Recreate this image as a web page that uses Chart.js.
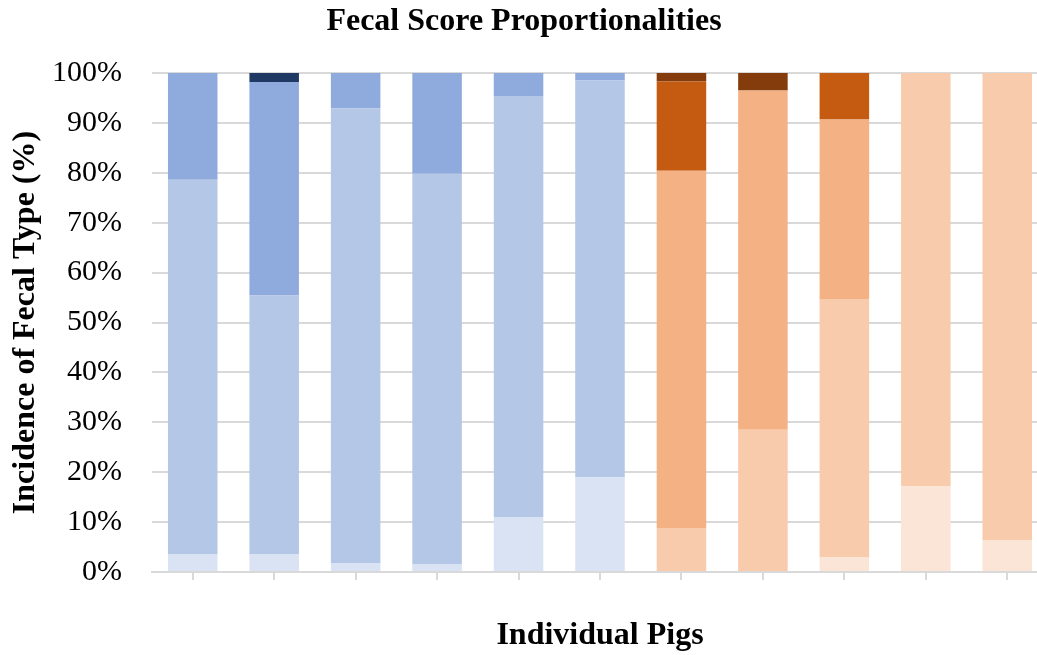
<!DOCTYPE html>
<html>
<head>
<meta charset="utf-8">
<script src="https://cdn.jsdelivr.net/npm/chart.js@4/dist/chart.umd.min.js"></script>
<style>
  html, body { margin: 0; padding: 0; background: #fff; overflow: hidden; }
  #wrap { width: 1048px; height: 655px; }
</style>
</head>
<body>
<div id="wrap"><canvas id="c" width="1048" height="655"></canvas></div>
<script>
// Pigs on the x axis (labels are not printed)
const pigs = ['1', '2', '3', '4', '5', '6', '7', '8', '9', '10', '11'];

// Share (%) of observations per fecal score, one array per score (1 = firmest)
const score1 = [3.6, 3.6, 1.8, 1.5, 11.0, 19.0, 0, 0, 3.0, 17.2, 6.3];
const score2 = [75.0, 51.8, 91.1, 78.3, 84.4, 79.5, 8.8, 28.5, 51.7, 82.8, 93.7];
const score3 = [21.4, 42.8, 7.1, 20.2, 4.6, 1.5, 71.6, 68.0, 36.0, 0, 0];
const score4 = [0, 0, 0, 0, 0, 0, 17.9, 0, 9.3, 0, 0];
const score5 = [0, 1.8, 0, 0, 0, 0, 1.7, 3.5, 0, 0, 0];

// Group of each pig: first six in blue shades, last five in orange shades
const group = ['b', 'b', 'b', 'b', 'b', 'b', 'o', 'o', 'o', 'o', 'o'];
const blueShades = ['#dae3f3', '#b4c7e7', '#8faadc', '#2f5597', '#203864'];
const orangeShades = ['#fbe5d6', '#f8cbad', '#f4b183', '#c55a11', '#843c0c'];

const yTicks = [0, 10, 20, 30, 40, 50, 60, 70, 80, 90, 100];

const series = [score1, score2, score3, score4, score5];
const datasets = series.map((values, level) => ({
  label: 'Score ' + (level + 1),
  data: values,
  backgroundColor: group.map(g => (g === 'b' ? blueShades : orangeShades)[level]),
  borderWidth: 0,
  barPercentage: 0.608,
  categoryPercentage: 1.0
}));

const serif = "'Liberation Serif', 'Times New Roman', serif";

new Chart(document.getElementById('c'), {
  type: 'bar',
  data: { labels: pigs, datasets },
  options: {
    responsive: false,
    animation: false,
    layout: { padding: { left: 0, right: 0, top: 0, bottom: 0 } },
    plugins: {
      legend: { display: false },
      tooltip: { enabled: false },
      title: {
        display: true,
        text: 'Fecal Score Proportionalities',
        color: '#000',
        font: { family: serif, size: 32, weight: 'bold' },
        padding: { top: 3, bottom: 31.6 }
      }
    },
    scales: {
      x: {
        stacked: true,
        offset: true,
        border: { display: true, color: '#d9d9d9', width: 2 },
        grid: {
          offset: false,
          drawOnChartArea: false,
          drawTicks: true,
          tickLength: 8,
          color: '#d9d9d9',
          lineWidth: 2
        },
        ticks: { display: false },
        title: {
          display: true,
          text: 'Individual Pigs',
          color: '#000',
          font: { family: serif, size: 32, weight: 'bold' },
          padding: { top: 30, bottom: 0 }
        },
        afterFit: s => { s.height = 83; }
      },
      y: {
        stacked: true,
        min: 0,
        max: 100,
        afterBuildTicks: s => { s.ticks = yTicks.map(v => ({ value: v })); },
        border: { display: false },
        grid: { color: '#d9d9d9', lineWidth: 2, drawTicks: false },
        ticks: {
          color: '#000',
          font: { family: serif, size: 30 },
          padding: 30,
          callback: v => v + '%'
        },
        title: {
          display: true,
          text: 'Incidence of Fecal Type (%)',
          color: '#000',
          font: { family: serif, size: 32, weight: 'bold' },
          padding: { top: 7, bottom: 0 }
        },
        afterFit: s => { s.width = 152; }
      }
    }
  }
});
</script>
</body>
</html>
